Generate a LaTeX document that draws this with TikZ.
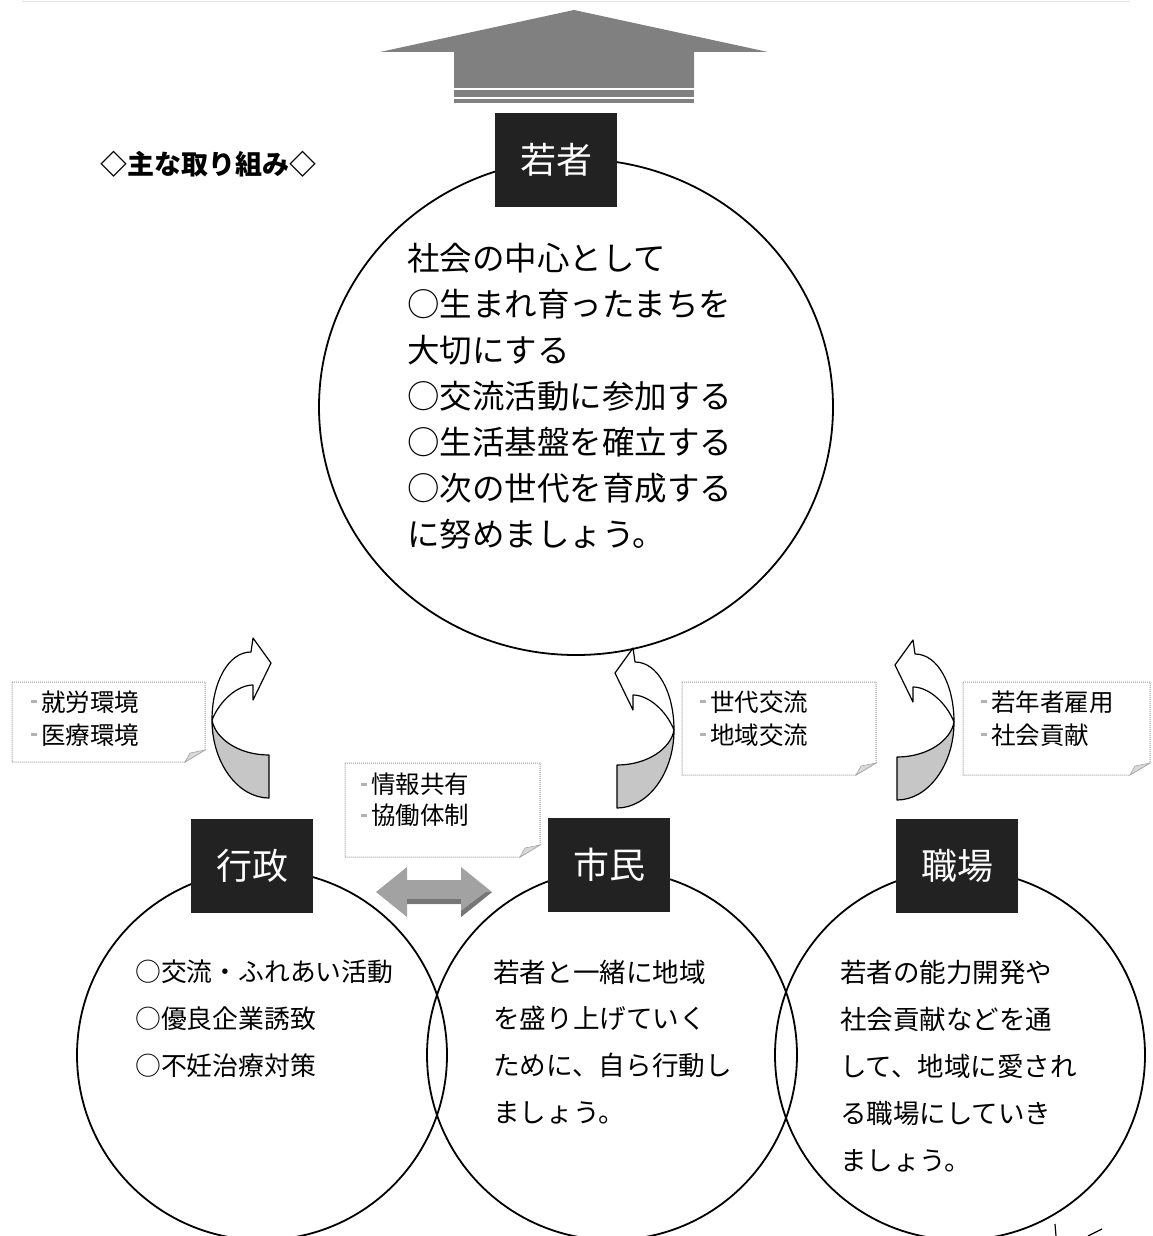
\documentclass[tikz,border=0pt]{standalone}
\usepackage{fontspec}
\setmainfont{Noto Sans CJK JP}
\definecolor{boxblack}{HTML}{222222}
\definecolor{arrowgray}{HTML}{808080}
\definecolor{dblgray}{HTML}{A2A2A2}
\definecolor{dbldark}{HTML}{767676}
\newcommand\bul{\textcolor{gray!60}{\rule[0.33em]{0.22em}{0.12em}}\hspace{0.18em}}
\newcommand\notebox[5]{%
  \draw[notestyle] (#1,#2) -- (#3,#2) -- (#3,#4-12) -- (#3-20,#4) -- (#1,#4) -- cycle;
  \filldraw[fill=gray!30, draw=gray!70, line width=0.6pt] (#3-20,#4) -- (#3-15,#4-9) -- (#3,#4-12) -- cycle;
  \coordinate (#5) at (#1,#2);}
\newcommand\curvarrow[3]{%
  \begin{scope}[shift={(#1,#2)}, xscale=#3]
    \filldraw[fill=white, draw=black, line width=1.2pt, line join=round]
      (0,0) -- (2,14) .. controls (25,14) and (41,45) .. (41,82)
      .. controls (33,62) and (15,47) .. (0,47) -- (0,62) -- (-18,25) -- cycle;
    \filldraw[fill=gray!45, draw=black, line width=1.2pt, line join=round]
      (41,82) .. controls (41,125) and (15,160) .. (-16,160) -- (-16,117)
      .. controls (15,117) and (38,100) .. (41,82) -- cycle;
  \end{scope}}
\begin{document}
\begin{tikzpicture}[x=1pt, y=-1pt,
  circ/.style={draw=black, line width=1.8pt},
  lbl/.style={fill=boxblack, text=white, minimum width=122pt, minimum height=94pt, inner sep=0pt, font=\fontsize{36}{40}\selectfont},
  notestyle/.style={draw=gray!80, densely dotted, line width=1pt},
  body/.style={align=left, anchor=west, inner sep=0pt},
  notetxt/.style={align=left, anchor=west, inner sep=0pt, font=\fontsize{24.5}{33}\selectfont}]
\useasboundingbox (0,0) rectangle (1152,1236);
\fill[white] (0,0) rectangle (1152,1236);
\draw[gray!20, line width=1pt] (22,2) -- (1130,2);

% top arrow
\fill[arrowgray] (574,10) -- (768,52) -- (694,52) -- (694,88) -- (454,88) -- (454,52) -- (380,52) -- cycle;
\fill[arrowgray] (454,90) rectangle (694,97);
\fill[arrowgray] (454,99) rectangle (694,103);

% circles
\draw[circ] (576,407) ellipse [x radius=257pt, y radius=248pt];
\draw[circ] (262,1055) circle [radius=185pt];
\draw[circ] (612,1055) circle [radius=185pt];
\draw[circ] (960,1055) circle [radius=185pt];

% curved arrows
\curvarrow{253}{638}{-1}
\curvarrow{633}{648}{1}
\curvarrow{913}{640}{1}

% double arrow
\fill[dblgray] (376,892) -- (407,867) -- (407,880) -- (461,880) -- (461,867) -- (492,892) -- (461,917) -- (461,904) -- (407,904) -- (407,917) -- cycle;
\fill[dbldark] (407,899) rectangle (461,904);
\fill[dbldark] (492,892) -- (461,917) -- (461,911) -- (486,892) -- cycle;

% note boxes
\notebox{12}{682}{205}{762}{n1}
\notebox{682}{682}{876}{775}{n2}
\notebox{963}{682}{1150}{775}{n3}
\notebox{345}{763}{540}{857}{n4}
\node[notetxt] (t1) at (31,718.5) {\bul 就労環境\\\bul 医療環境};
\node[notetxt] (t2) at (700,718.5) {\bul 世代交流\\\bul 地域交流};
\node[notetxt] (t3) at (981,718.5) {\bul 若年者雇用\\\bul 社会貢献};
\node[notetxt, font=\fontsize{24.5}{31}\selectfont] (t4) at (361,800) {\bul 情報共有\\\bul 協働体制};

% label boxes
\node[lbl] (wakamono) at (556,160) {若者};
\node[lbl] (gyosei) at (252,866) {行政};
\node[lbl] (shimin) at (609,865) {市民};
\node[lbl] (shokuba) at (957,866) {職場};

% heading
\node[anchor=west, inner sep=0pt, font=\fontsize{27}{30}\selectfont\bfseries] (head) at (100,164) {◇主な取り組み◇};

% texts
\node[body, font=\fontsize{32.5}{46}\selectfont] (ttop) at (407,396.5) {社会の中心として\\○生まれ育ったまちを\\大切にする\\○交流活動に参加する\\○生活基盤を確立する\\○次の世代を育成する\\に努めましょう。};
\node[body, font=\fontsize{25.8}{47}\selectfont] (tleft) at (135,1019) {○交流・ふれあい活動\\○優良企業誘致\\○不妊治療対策};
\node[body, font=\fontsize{26.6}{46.7}\selectfont] (tmid) at (493,1042) {若者と一緒に地域\\を盛り上げていく\\ために、自ら行動し\\ましょう。};
\node[body, font=\fontsize{26.5}{47}\selectfont] (tright) at (840,1066) {若者の能力開発や\\社会貢献などを通\\して、地域に愛され\\る職場にしていき\\ましょう。};

% cut-off marks at bottom right
\draw[black, line width=1.2pt] (1055,1224) -- (1056,1236);
\draw[black, line width=1.2pt] (1102,1229) -- (1088,1236);
\end{tikzpicture}
\end{document}
